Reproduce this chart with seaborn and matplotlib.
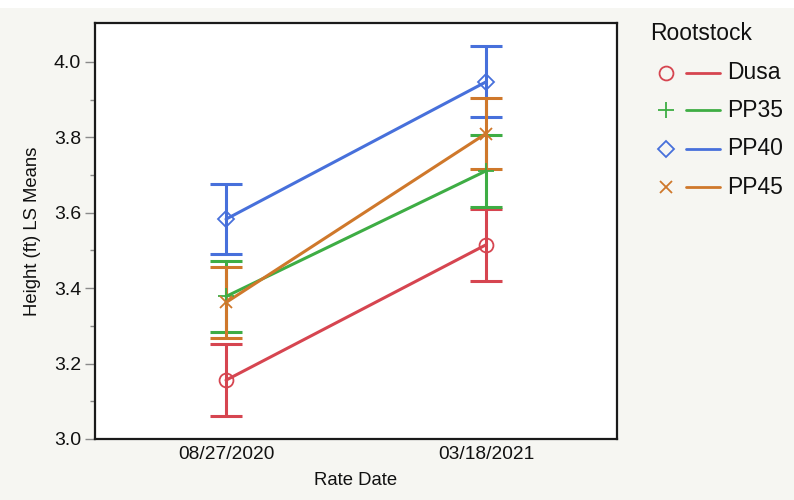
import matplotlib
matplotlib.use("Agg")
import matplotlib.pyplot as plt
from matplotlib.lines import Line2D
from matplotlib.patches import Rectangle
import seaborn as sns
import pandas as pd
import numpy as np

# ---- data ----
dates = ["08/27/2020", "03/18/2021"]
rootstocks = ["Dusa", "PP35", "PP40", "PP45"]
dusa_mean = [3.156, 3.515]
pp35_mean = [3.378, 3.711]
pp40_mean = [3.583, 3.947]
pp45_mean = [3.362, 3.810]
dusa_err = [0.096, 0.096]
pp35_err = [0.095, 0.095]
pp40_err = [0.093, 0.094]
pp45_err = [0.093, 0.094]

means = {"Dusa": dusa_mean, "PP35": pp35_mean, "PP40": pp40_mean, "PP45": pp45_mean}
errs = {"Dusa": dusa_err, "PP35": pp35_err, "PP40": pp40_err, "PP45": pp45_err}

colors = {"Dusa": "#D64550", "PP35": "#3EAD44", "PP40": "#4770DB", "PP45": "#CF782B"}
markers = {"Dusa": "o", "PP35": "+", "PP40": "D", "PP45": "x"}
msizes = {"Dusa": 10, "PP35": 11, "PP40": 8.5, "PP45": 9}

rows = []
for r in rootstocks:
    for i, d in enumerate(dates):
        rows.append({"Rate Date": d, "pos": i, "Rootstock": r,
                     "mean": means[r][i], "err": errs[r][i]})
df = pd.DataFrame(rows)

W, H = 794, 500
BG = "#F6F6F2"
sns.set_theme(style="white")
plt.rcParams["font.family"] = ["Liberation Sans", "DejaVu Sans"]

fig = plt.figure(figsize=(W / 100, H / 100), dpi=100, facecolor=BG)
fig.patches.append(Rectangle((0, 1 - 8 / H), 1, 8 / H, transform=fig.transFigure,
                             facecolor="white", edgecolor="none", zorder=0))
ax = fig.add_axes([95 / W, 1 - 439 / H, (617 - 95) / W, (439 - 22.7) / H])
ax.set_facecolor("white")

for r in rootstocks:
    sub = df[df["Rootstock"] == r]
    c = colors[r]
    ax.errorbar(sub["pos"], sub["mean"], yerr=sub["err"], fmt="none",
                ecolor=c, elinewidth=2.2, capsize=11.5, capthick=2.2, zorder=2)
    sns.lineplot(data=sub, x="pos", y="mean", ax=ax, color=c, lw=2.2,
                 legend=False, zorder=3, sort=False)
    filled = markers[r] in ("o", "D")
    ax.plot(sub["pos"], sub["mean"], ls="none", marker=markers[r],
            ms=msizes[r], mfc="none" if filled else c, mec=c, mew=1.3, zorder=4)

ax.set_xlim(-0.504, 1.504)
ax.set_ylim(3.0, 4.104)
ax.set_xticks(range(len(dates)))
ax.set_xticklabels(dates)
ax.set_yticks(np.arange(3.0, 4.01, 0.2))
ax.set_yticklabels([f"{v:.1f}" for v in np.arange(3.0, 4.01, 0.2)])
ax.set_yticks(np.arange(3.1, 4.01, 0.2), minor=True)
ax.tick_params(axis="x", length=0, pad=5, labelsize=13.8, labelcolor="#111111")
ax.tick_params(axis="y", which="major", length=7, width=1, color="#8a8a8a",
               pad=3, labelsize=14, labelcolor="#111111", left=True)
ax.tick_params(axis="y", which="minor", length=3.5, width=1, color="#8a8a8a", left=True)
ax.set_xlabel("Rate Date", fontsize=13.3, color="#111111", labelpad=6.5)
ax.set_ylabel("Height (ft) LS Means", fontsize=13.3, color="#111111", labelpad=9)
for s in ax.spines.values():
    s.set_color("#1a1a1a")
    s.set_linewidth(1.6)

# ---- legend ----
fig.text(650 / W, 1 - 33.5 / H, "Rootstock", fontsize=16.5, ha="left", va="center",
         color="#111111")
row_y = [72.7, 110.3, 148.7, 187.0]
for r, y in zip(rootstocks, row_y):
    c = colors[r]
    fy = 1 - y / H
    filled = markers[r] in ("o", "D")
    fig.add_artist(Line2D([666 / W], [fy], transform=fig.transFigure, ls="none",
                          marker=markers[r], ms=msizes[r], mfc="none" if filled else c,
                          mec=c, mew=1.3))
    fig.add_artist(Line2D([686 / W, 720 / W], [fy, fy], transform=fig.transFigure,
                          color=c, lw=2.0))
    fig.text(727 / W, fy, r, fontsize=16.5, ha="left", va="center", color="#111111")

fig.savefig("out.png", dpi=100, facecolor=BG)
